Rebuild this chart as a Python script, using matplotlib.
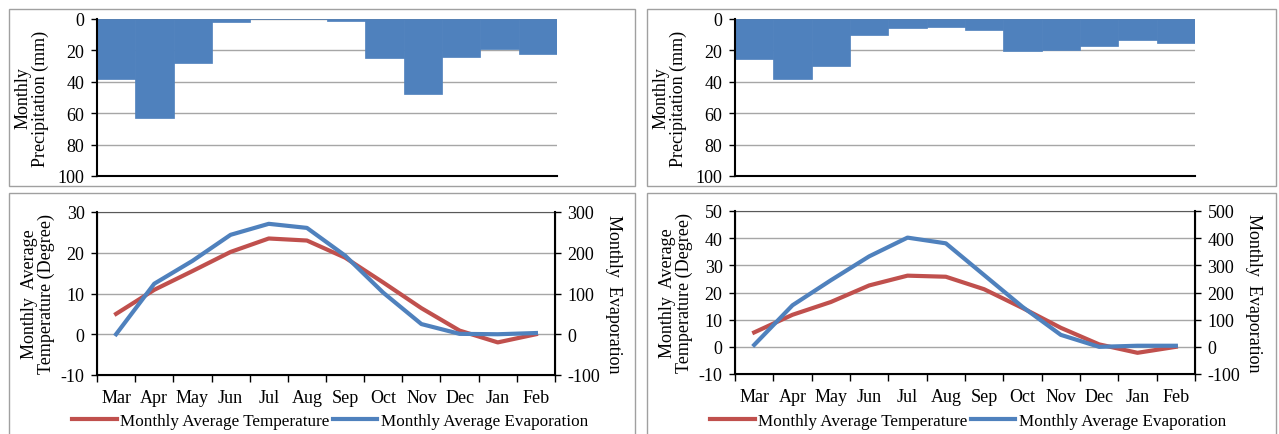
import matplotlib.pyplot as plt
from matplotlib.patches import Rectangle
from matplotlib.lines import Line2D
from matplotlib.ticker import FixedLocator, NullFormatter

plt.rcParams['font.family'] = ['Liberation Serif', 'DejaVu Serif']
plt.rcParams['font.size'] = 13
plt.rcParams['axes.unicode_minus'] = False

months = ["Mar", "Apr", "May", "Jun", "Jul", "Aug", "Sep", "Oct", "Nov", "Dec", "Jan", "Feb"]

# left station
precip_a = [38, 63, 28, 2, 0.3, 0.3, 1.5, 25, 48, 24, 19, 22.5]
temp_a = [5, 10.9, 15.5, 20.2, 23.5, 23, 18.8, 12.7, 6.4, 0.9, -2, 0]
evap_a = [0, 124, 180, 244, 271, 261, 193, 102, 25, 1, 0, 3]

# right station
precip_b = [25.5, 38, 30, 10, 6, 5, 7, 20.5, 20, 17, 13.5, 15]
temp_b = [5.3, 11.8, 16.5, 22.6, 26.2, 25.8, 21.2, 14.3, 7, 0.9, -2.2, 0]
evap_b = [7, 153, 245, 333, 402, 381, 264, 147, 44, 0, 4, 4]

RED = "#C0504D"
BLUE = "#4F81BD"
GRID = "#A6A6A6"

fig = plt.figure(figsize=(12.79, 4.35), dpi=100)

W, H = 1279, 435


def box(x0, y0, x1, y1):
    return [x0 / W, 1 - y1 / H, (x1 - x0) / W, (y1 - y0) / H]


# panel frames
for x0, y0, x1, y1 in [(9, 10, 635, 187), (9, 194, 635, 440),
                       (647, 10, 1276, 187), (647, 194, 1276, 440)]:
    fig.add_artist(Rectangle((x0 / W, 1 - y1 / H), (x1 - x0) / W, (y1 - y0) / H,
                             transform=fig.transFigure, fill=False,
                             edgecolor="#A0A0A0", linewidth=1))


def precip_panel(rect, values):
    ax = fig.add_axes(rect)
    x = range(len(values))
    ax.bar(x, values, width=1.0, color=BLUE, edgecolor=BLUE, linewidth=0.5, zorder=2)
    ax.set_xlim(-0.5, len(values) - 0.5)
    ax.set_ylim(100, 0)
    ax.set_yticks([0, 20, 40, 60, 80, 100])
    ax.set_xticks([])
    ax.yaxis.grid(True, color=GRID, linewidth=1)
    ax.set_axisbelow(True)
    for s in ["top", "right"]:
        ax.spines[s].set_visible(False)
    ax.spines["left"].set_linewidth(1.5)
    ax.spines["bottom"].set_linewidth(1.5)
    ax.axhline(0, color="#7F7F7F", linewidth=1.2, zorder=1)
    ax.tick_params(axis="y", direction="out", length=4, width=1, pad=5)
    ax.set_ylabel("Monthly\nPrecipitation (mm)", linespacing=1.0, labelpad=6)
    return ax


def climate_panel(rect, temp, evap, tlim, elim, tticks, eticks):
    ax = fig.add_axes(rect)
    x = range(len(temp))
    ax.plot(x, temp, color=RED, linewidth=3, zorder=3)
    ax.set_xlim(-0.5, len(temp) - 0.5)
    ax.set_ylim(*tlim)
    ax.set_yticks(tticks)
    ax.set_xticks(list(x))
    ax.set_xticklabels(months)
    ax.xaxis.set_minor_locator(FixedLocator([i - 0.5 for i in range(len(temp) + 1)]))
    ax.xaxis.set_minor_formatter(NullFormatter())
    ax.tick_params(axis="x", which="major", length=0, pad=10)
    ax.tick_params(axis="x", which="minor", direction="out", length=5, width=1)
    ax.tick_params(axis="y", direction="out", length=4, width=1, pad=5)
    ax.yaxis.grid(True, color=GRID, linewidth=1)
    ax.set_axisbelow(True)
    ax.spines["top"].set_color("#595959")
    ax.spines["left"].set_linewidth(1.5)
    ax.spines["bottom"].set_linewidth(1.5)
    ax.set_ylabel("Monthly  Average\nTemperature (Degree)", linespacing=1.0, labelpad=4)

    ax2 = ax.twinx()
    ax2.plot(x, evap, color=BLUE, linewidth=3, zorder=3)
    ax2.set_ylim(*elim)
    ax2.set_yticks(eticks)
    ax2.spines["right"].set_linewidth(1.5)
    ax2.spines["top"].set_visible(False)
    ax2.tick_params(axis="y", direction="out", length=4, width=1, pad=5)
    ax2.set_ylabel("Monthly  Evaporation", rotation=270, labelpad=16)
    return ax, ax2


precip_panel(box(97, 20, 557, 177), precip_a)
precip_panel(box(735, 20, 1195, 177), precip_b)

climate_panel(box(97, 213, 555, 376), temp_a, evap_a, (-10, 30), (-100, 300),
              [-10, 0, 10, 20, 30], [-100, 0, 100, 200, 300])
climate_panel(box(735, 212, 1195, 375), temp_b, evap_b, (-10, 50), (-100, 500),
              [-10, 0, 10, 20, 30, 40, 50], [-100, 0, 100, 200, 300, 400, 500])

handles = [Line2D([], [], color=RED, linewidth=3), Line2D([], [], color=BLUE, linewidth=3)]
labels = ["Monthly Average Temperature", "Monthly Average Evaporation"]
for cx in (0.258, 0.757):
    fig.legend(handles, labels, loc="center", bbox_to_anchor=(cx, 1 - 422 / H),
               ncol=2, frameon=False, handlelength=2.6, handletextpad=0.2,
               columnspacing=0.2, borderaxespad=0, fontsize=12.3)

fig.savefig("out.png", dpi=100)
